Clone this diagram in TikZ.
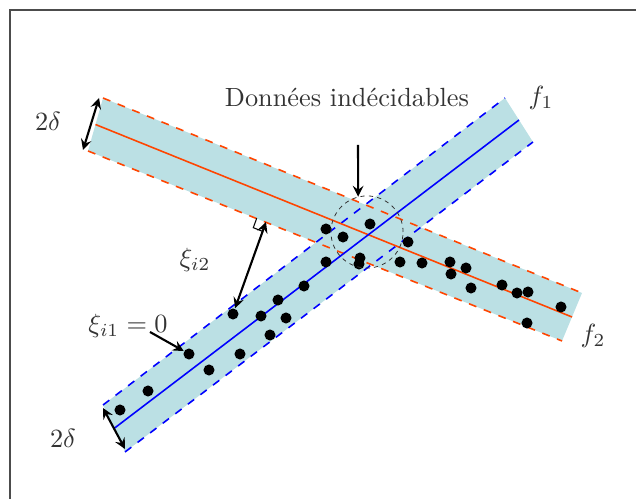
\documentclass[tikz,border=0pt]{standalone}
\usetikzlibrary{positioning,calc}
\definecolor{cyanpale}{RGB}{187,224,228}
\definecolor{rouge}{RGB}{255,69,0}

\begin{document}
\begin{tikzpicture}%
  [x=0.38pt,y=-0.38pt,
   cadre/.style={draw=black!70,line width=0.5pt},
   bande/.style={fill=cyanpale},
   bord/.style={semithick,dashed},
   axe/.style={semithick},
   point/.style={circle,fill=black,inner sep=0pt,minimum size=4.2pt},
   fleche/.style={thick,<->,>=stealth},
   renvoi/.style={thick,->,>=stealth},
   etiquette/.style={text=black!80}
  ]
  \useasboundingbox (0,0) rectangle (636,499);
  \draw[cadre] (10,499) -- (10,10) -- (636,10);
  % bande de f1 (bleue)
  \coordinate (b1hg) at (103,405);
  \coordinate (b1bg) at (125,452);
  \coordinate (b1hd) at (505,98);
  \coordinate (b1bd) at (533,142);
  % bande de f2 (rouge)
  \coordinate (b2hg) at (103,98);
  \coordinate (b2bg) at (88,151);
  \coordinate (b2hd) at (582,293);
  \coordinate (b2bd) at (562,341);
  \fill[bande] (b1hg) -- (b1hd) -- (b1bd) -- (b1bg) -- cycle;
  \fill[bande] (b2hg) -- (b2hd) -- (b2bd) -- (b2bg) -- cycle;
  \draw[bord,blue] (b1hg) -- (b1hd);
  \draw[bord,blue] (b1bg) -- (b1bd);
  \draw[bord,rouge] (b2hg) -- (b2hd);
  \draw[bord,rouge] (b2bg) -- (b2bd);
  \draw[axe,rouge] ($(b2hg)!0.5!(b2bg)$) -- ($(b2hd)!0.5!(b2bd)$);
  \draw[axe,blue] ($(b1hg)!0.5!(b1bg)$) -- ($(b1hd)!0.5!(b1bd)$);
  % donnees
  \foreach \x/\y [count=\i] in
    {120/410,148/391,209/370,240/354,261/316,270/335,278/300,
     286/318,304/286,326/262,326/229,343/237,370/224,360/258,
     359/264,408/242,400/262,422/263,450/262,466/268,451/274,
     471/288,502/285,517/293,528/292,527/323,561/307}
    \node[point] (p\i) at (\x,\y) {};
  \node[point] (pa) at (189,354) {};
  \node[point] (pb) at (233,314) {};
  % zone indecidable
  \node[draw,dash pattern=on 1.6pt off 1.6pt,line width=0.3pt,black!80,
    circle,minimum size=27.4pt,inner sep=0pt] (zone) at (367,232) {};
  \node[etiquette] (titre) at (347,97) {Donn\'ees ind\'ecidables};
  \coordinate (depart) at (358,145);
  \draw[renvoi] (depart) -- (zone.104);
  % etiquettes
  \node[etiquette] (f1) at (541,98) {$f_1$};
  \node[etiquette] (f2) at (593,336) {$f_2$};
  \node[etiquette] (d2) at (48,121) {$2\delta$};
  \node[etiquette] (d1) at (63,438) {$2\delta$};
  \node[etiquette] (xi2) at (195,260) {$\xi_{i2}$};
  \node[etiquette] (xi1) at (128,326) {$\xi_{i1}=0$};
  % largeurs
  \coordinate (l2h) at (99,98);
  \coordinate (l2b) at (83,150);
  \draw[fleche] (l2h) -- (l2b);
  \coordinate (l1h) at (103,408);
  \coordinate (l1b) at (125,449);
  \draw[fleche] (l1h) -- (l1b);
  % ecarts
  \coordinate (pied) at (266,222);
  \draw[fleche] (pied) -- (pb);
  \draw[thin] (256.7,218.3) -- (253.3,227.7) -- (262.6,231.4);
  \coordinate (xi1d) at (150,332);
  \draw[renvoi] (xi1d) -- (pa);
\end{tikzpicture}
\end{document}
